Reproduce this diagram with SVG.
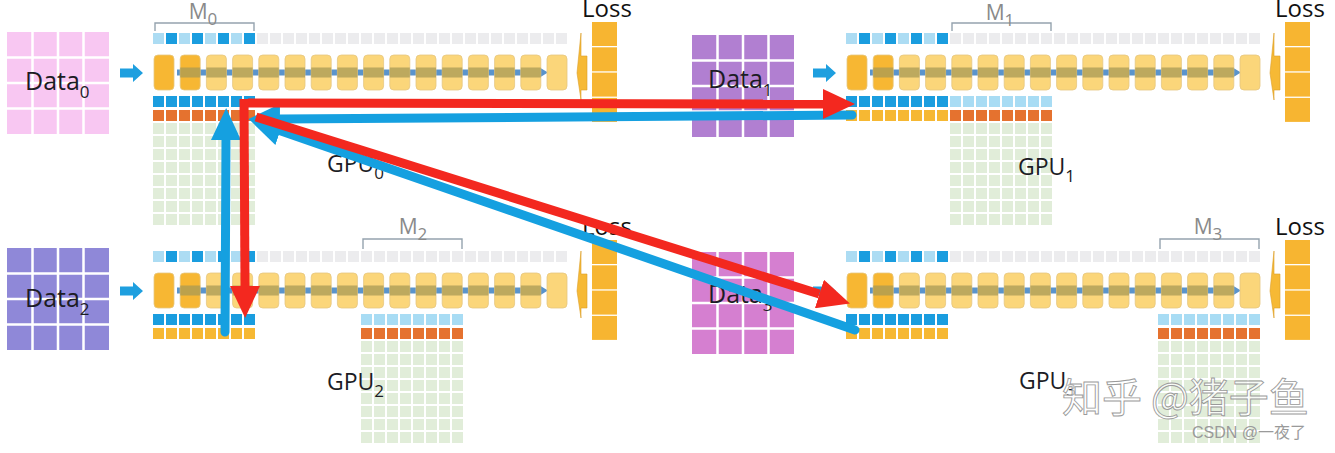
<svg xmlns="http://www.w3.org/2000/svg" xmlns:xlink="http://www.w3.org/1999/xlink" width="1335" height="453" viewBox="0 0 1335 453">
<style>
.lbl{font-family:"Open Sans","Liberation Sans",sans-serif;fill:#1c1c24;}
.data{font-size:25px;}
.gpu{font-size:23px;}
.loss{font-family:"Open Sans","Liberation Sans",sans-serif;font-size:24px;fill:#111;}
.mlbl{font-family:"Open Sans","Liberation Sans",sans-serif;font-size:21px;fill:#8a8a8a;}
.sub{font-size:17px;}
.brk{fill:none;stroke:#95a3ae;stroke-width:1.4;}
.blk{stroke:#e6c680;stroke-width:0.8;}
.gl{stroke:#fff;stroke-width:2.5;}
.red{stroke:#f3281f;stroke-width:9;fill:none;}
.blue{stroke:#15a0e0;stroke-width:9;fill:none;}
</style>
<defs>
<pattern id="pDB" width="13" height="13" patternUnits="userSpaceOnUse"><rect width="11" height="11" fill="#1a9ddf"/></pattern>
<pattern id="pLB" width="13" height="13" patternUnits="userSpaceOnUse"><rect width="11" height="11" fill="#a8dcf4"/></pattern>
<pattern id="pOR" width="13" height="13" patternUnits="userSpaceOnUse"><rect width="11" height="11" fill="#e5722f"/></pattern>
<pattern id="pYE" width="13" height="13" patternUnits="userSpaceOnUse"><rect width="11" height="11" fill="#f6b833"/></pattern>
<pattern id="pGR" width="13" height="13" patternUnits="userSpaceOnUse"><rect width="11" height="11" fill="#e1edd9"/></pattern>
<pattern id="pGY" width="13" height="13" patternUnits="userSpaceOnUse"><rect width="11" height="11" fill="#ececee"/></pattern>
<pattern id="pTop" width="26" height="13" patternUnits="userSpaceOnUse"><rect width="11" height="11" fill="#acdcf3"/><rect x="13" width="11" height="11" fill="#1a9ddf"/></pattern>
<marker id="hRed" markerUnits="userSpaceOnUse" viewBox="0 0 32 30" markerWidth="32" markerHeight="30" refX="0" refY="15" orient="auto"><path d="M0,0 L32,15 L0,30 z" fill="#f3281f"/></marker>
<marker id="hBlue" markerUnits="userSpaceOnUse" viewBox="0 0 32 30" markerWidth="32" markerHeight="30" refX="0" refY="15" orient="auto"><path d="M0,0 L32,15 L0,30 z" fill="#15a0e0"/></marker>
<g id="dgrid">
<rect width="102" height="102"/>
<path class="gl" d="M25.5,0V102M51,0V102M76.5,0V102M0,25.5H102M0,51H102M0,76.5H102"/>
</g>
<g id="common">
<rect width="414" height="11" fill="url(#pGY)"/>
<rect width="104" height="11" fill="url(#pTop)"/>
<line x1="24" y1="39.5" x2="387" y2="39.5" stroke="#5a94cc" stroke-width="6"/>
<polygon points="385,33.5 395,39.5 385,45.5" fill="#5a94cc"/>
<g class="blk" fill="#fbd67a">
<rect x="1" y="22" width="20" height="35" rx="4" fill="#f7b733"/>
<rect x="27.2" y="22" width="20" height="35" rx="4" fill="#f7b733"/>
<rect x="53.4" y="22" width="20" height="35" rx="4"/>
<rect x="79.6" y="22" width="20" height="35" rx="4"/>
<rect x="105.8" y="22" width="20" height="35" rx="4"/>
<rect x="132" y="22" width="20" height="35" rx="4"/>
<rect x="158.2" y="22" width="20" height="35" rx="4"/>
<rect x="184.4" y="22" width="20" height="35" rx="4"/>
<rect x="210.6" y="22" width="20" height="35" rx="4"/>
<rect x="236.8" y="22" width="20" height="35" rx="4"/>
<rect x="263" y="22" width="20" height="35" rx="4"/>
<rect x="289.2" y="22" width="20" height="35" rx="4"/>
<rect x="315.4" y="22" width="20" height="35" rx="4"/>
<rect x="341.6" y="22" width="20" height="35" rx="4"/>
<rect x="367.8" y="22" width="20" height="35" rx="4"/>
<rect x="394" y="22" width="20" height="35" rx="4"/>
</g>
<line x1="27.2" y1="39.5" x2="387.8" y2="39.5" stroke="#a89a55" stroke-opacity="0.75" stroke-width="10" stroke-dasharray="20 6.2"/>
<polygon points="434,23 428,23 428,0 424,40 428,67 428,57 434,57" fill="#f6b935" stroke="#dca02a" stroke-width="0.6"/>
<g fill="#f7b531">
<rect x="439" y="-11" width="25" height="24"/>
<rect x="439" y="14.3" width="25" height="24"/>
<rect x="439" y="39.6" width="25" height="24"/>
<rect x="439" y="64.9" width="25" height="24"/>
</g>
<polygon points="-33,35.5 -20,35.5 -20,31 -10,40 -20,49 -20,44.5 -33,44.5" fill="#1e9fdf"/>
<text class="loss" x="429" y="-16">Loss</text>
</g>
</defs>

<rect width="1335" height="453" fill="#fff"/>

<g id="data0"><use xlink:href="#dgrid" href="#dgrid" transform="translate(7,32)" fill="#f8c7f2"/><text class="lbl data" x="25" y="90">Data<tspan class="sub" dy="8">0</tspan></text></g>
<g id="data1"><use xlink:href="#dgrid" href="#dgrid" transform="translate(692,35)" fill="#b17fd1"/><text class="lbl data" x="708" y="88">Data<tspan class="sub" dy="8">1</tspan></text></g>
<g id="data2"><use xlink:href="#dgrid" href="#dgrid" transform="translate(7,248)" fill="#8f88d8"/><text class="lbl data" x="25" y="307">Data<tspan class="sub" dy="8">2</tspan></text></g>
<g id="data3"><use xlink:href="#dgrid" href="#dgrid" transform="translate(692,252)" fill="#d57fd0"/><text class="lbl data" x="708" y="303">Data<tspan class="sub" dy="8">3</tspan></text></g>

<g id="gpu0" transform="translate(153,33)">
<use xlink:href="#common" href="#common"/>
<g transform="translate(0,63)"><rect width="104" height="11" fill="url(#pDB)"/></g>
<g transform="translate(0,77)"><rect width="104" height="11" fill="url(#pOR)"/></g>
<g transform="translate(0,90)"><rect width="104" height="102" fill="url(#pGR)"/></g>
<path class="brk" d="M2,-2V-10H101V-2"/>
<text class="mlbl" x="50" y="-14.5" text-anchor="middle">M<tspan class="sub" dy="6">0</tspan></text>
<text class="lbl gpu" x="174" y="139">GPU<tspan class="sub" dy="7">0</tspan></text>
</g>

<g id="gpu1" transform="translate(846,33)">
<use xlink:href="#common" href="#common"/>
<g transform="translate(0,63)"><rect width="104" height="11" fill="url(#pDB)"/><rect x="104" width="104" height="11" fill="url(#pLB)"/></g>
<g transform="translate(0,77)"><rect width="104" height="11" fill="url(#pYE)"/><rect x="104" width="104" height="11" fill="url(#pOR)"/></g>
<g transform="translate(0,90)"><rect x="104" width="104" height="102" fill="url(#pGR)"/></g>
<path class="brk" d="M106,-2V-10H205V-2"/>
<text class="mlbl" x="154" y="-13" text-anchor="middle">M<tspan class="sub" dy="6">1</tspan></text>
<text class="lbl gpu" x="172" y="142">GPU<tspan class="sub" dy="7">1</tspan></text>
</g>

<g id="gpu2" transform="translate(153,251)">
<use xlink:href="#common" href="#common"/>
<g transform="translate(0,63)"><rect width="104" height="11" fill="url(#pDB)"/><rect x="208" width="104" height="11" fill="url(#pLB)"/></g>
<g transform="translate(0,77)"><rect width="104" height="11" fill="url(#pYE)"/><rect x="208" width="104" height="11" fill="url(#pOR)"/></g>
<g transform="translate(0,90)"><rect x="208" width="104" height="102" fill="url(#pGR)"/></g>
<path class="brk" d="M210,-2V-12H309V-2"/>
<text class="mlbl" x="260" y="-17" text-anchor="middle">M<tspan class="sub" dy="6">2</tspan></text>
<text class="lbl gpu" x="174" y="139">GPU<tspan class="sub" dy="7">2</tspan></text>
</g>

<g id="gpu3" transform="translate(846,251)">
<use xlink:href="#common" href="#common"/>
<g transform="translate(0,63)"><rect width="104" height="11" fill="url(#pDB)"/><rect x="312" width="104" height="11" fill="url(#pLB)"/></g>
<g transform="translate(0,77)"><rect width="104" height="11" fill="url(#pYE)"/><rect x="312" width="104" height="11" fill="url(#pOR)"/></g>
<g transform="translate(0,90)"><rect x="312" width="104" height="102" fill="url(#pGR)"/></g>
<path class="brk" d="M314,-2V-12H413V-2"/>
<text class="mlbl" x="362" y="-17" text-anchor="middle">M<tspan class="sub" dy="6">3</tspan></text>
<text class="lbl gpu" x="173" y="138">GPU<tspan class="sub" dy="7">3</tspan></text>
</g>

<g id="connectors">
<line class="blue" x1="852" y1="115" x2="280" y2="119" stroke-linecap="round" marker-end="url(#hBlue)"/>
<line class="blue" x1="855" y1="330" x2="280.3" y2="130.8" stroke-linecap="round" marker-end="url(#hBlue)"/>
<line class="blue" x1="225" y1="332" x2="226" y2="140" stroke-linecap="round" marker-end="url(#hBlue)"/>
<line class="red" x1="248" y1="103" x2="823" y2="104" marker-end="url(#hRed)"/>
<line class="red" x1="256" y1="117" x2="819.4" y2="294" marker-end="url(#hRed)"/>
<line class="red" x1="244" y1="99" x2="245" y2="286" marker-end="url(#hRed)"/>
</g>

<g id="watermark">
<text x="1062" y="412" font-family="'Noto Sans CJK SC',sans-serif" font-size="40" fill="#ffffff" fill-opacity="0.7" stroke="#9a9a9a" stroke-width="0.9">知乎 @猪子鱼</text>
<text x="1192" y="438" font-family="'Liberation Sans','Noto Sans CJK SC',sans-serif" font-size="16" fill="#9a9a9a">CSDN @一夜了</text>
</g>
</svg>
